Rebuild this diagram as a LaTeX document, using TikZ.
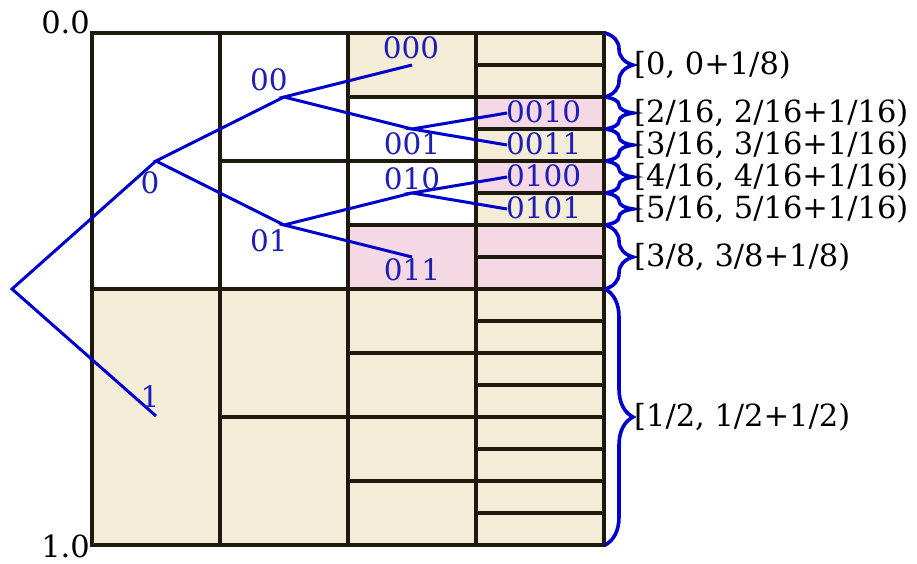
\documentclass[tikz,border=0pt]{standalone}
\usepackage{fontspec}
\setmainfont{DejaVu Serif}
\usetikzlibrary{decorations.pathreplacing}
\definecolor{beige}{RGB}{243,237,216}
\definecolor{pinkc}{RGB}{244,217,229}
\definecolor{gridc}{RGB}{30,25,12}
\definecolor{treec}{RGB}{0,0,205}
\definecolor{labc}{RGB}{30,30,180}
\begin{document}
\begin{tikzpicture}[x=1pt,y=-1pt,
  gridline/.style={draw=gridc,line width=3.2pt},
  treeline/.style={draw=treec,line width=3pt,line join=miter},
  blab/.style={inner sep=0pt,text=labc,font=\fontsize{29.5}{34}\selectfont},
  klab/.style={inner sep=0pt,text=black,font=\fontsize{30.5}{36}\selectfont},
  bracebox/.style={draw=treec,line width=3.6pt,decorate,decoration={brace,amplitude=28pt}}]
\useasboundingbox (0,0) rectangle (917,563);
% fills
\fill[beige] (92,289) rectangle (604,545);
\fill[beige] (348,33) rectangle (476,97);
\fill[pinkc] (348,225) rectangle (476,289);
\fill[beige] (476,33) rectangle (604,97);
\fill[pinkc] (476,97) rectangle (604,129);
\fill[beige] (476,129) rectangle (604,161);
\fill[pinkc] (476,161) rectangle (604,193);
\fill[beige] (476,193) rectangle (604,225);
\fill[pinkc] (476,225) rectangle (604,289);
% grid
\foreach \x in {220,348,476} \draw[gridline] (\x,33) -- (\x,545);
\draw[gridline] (92,289) -- (604,289);
\foreach \y in {161,417} \draw[gridline] (220,\y) -- (348,\y);
\foreach \y in {97,161,225,353,417,481} \draw[gridline] (348,\y) -- (476,\y);
\foreach \y in {65,97,...,513} \draw[gridline] (476,\y) -- (604,\y);
\draw[gridline] (92,33) rectangle (604,545);
% axis labels
\node[klab,anchor=east] (top) at (90,22) {0.0};
\node[klab,anchor=east] (bot) at (90,546) {1.0};
% tree coordinates
\coordinate (r) at (12,289);
\coordinate (n0) at (156,161);
\coordinate (n1) at (156,416);
\coordinate (n00) at (284,97);
\coordinate (n01) at (284,225);
\coordinate (n000) at (412,65);
\coordinate (n001) at (412,129);
\coordinate (n010) at (412,193);
\coordinate (n011) at (412,257);
\coordinate (n0010) at (507,113);
\coordinate (n0011) at (507,145);
\coordinate (n0100) at (507,177);
\coordinate (n0101) at (507,209);
% tree lines
\draw[treeline] (n0) -- (r) -- (n1);
\draw[treeline] (n00) -- (n0) -- (n01);
\draw[treeline] (n000) -- (n00) -- (n001);
\draw[treeline] (n010) -- (n01) -- (n011);
\draw[treeline] (n0010) -- (n001) -- (n0011);
\draw[treeline] (n0100) -- (n010) -- (n0101);
% tree labels
\node[blab] (l0) at (150,183) {0};
\node[blab] (l1) at (150,397) {1};
\node[blab] (l00) at (269,80) {00};
\node[blab] (l01) at (269,241) {01};
\node[blab] (l000) at (411,48) {000};
\node[blab] (l001) at (412,144) {001};
\node[blab] (l010) at (412,179) {010};
\node[blab] (l011) at (412,270) {011};
\node[blab,anchor=west] (l0010) at (506,112) {0010};
\node[blab,anchor=west] (l0011) at (506,144) {0011};
\node[blab,anchor=west] (l0100) at (506,176) {0100};
\node[blab,anchor=west] (l0101) at (506,208) {0101};
% braces
\coordinate (b0) at (605,33);
\coordinate (b1) at (605,97);
\coordinate (b2) at (605,129);
\coordinate (b3) at (605,161);
\coordinate (b4) at (605,193);
\coordinate (b5) at (605,225);
\coordinate (b6) at (605,289);
\coordinate (b7) at (605,545);
\draw[bracebox] (b0) -- (b1);
\draw[bracebox] (b1) -- (b2);
\draw[bracebox] (b2) -- (b3);
\draw[bracebox] (b3) -- (b4);
\draw[bracebox] (b4) -- (b5);
\draw[bracebox] (b5) -- (b6);
\draw[bracebox] (b6) -- (b7);
\node[klab,anchor=west] (i0) at (634,65) {[0, 0+1/8)};
\node[klab,anchor=west] (i1) at (634,113) {[2/16, 2/16+1/16)};
\node[klab,anchor=west] (i2) at (634,145) {[3/16, 3/16+1/16)};
\node[klab,anchor=west] (i3) at (634,177) {[4/16, 4/16+1/16)};
\node[klab,anchor=west] (i4) at (634,209) {[5/16, 5/16+1/16)};
\node[klab,anchor=west] (i5) at (634,257) {[3/8, 3/8+1/8)};
\node[klab,anchor=west] (i6) at (634,417) {[1/2, 1/2+1/2)};
\end{tikzpicture}
\end{document}
